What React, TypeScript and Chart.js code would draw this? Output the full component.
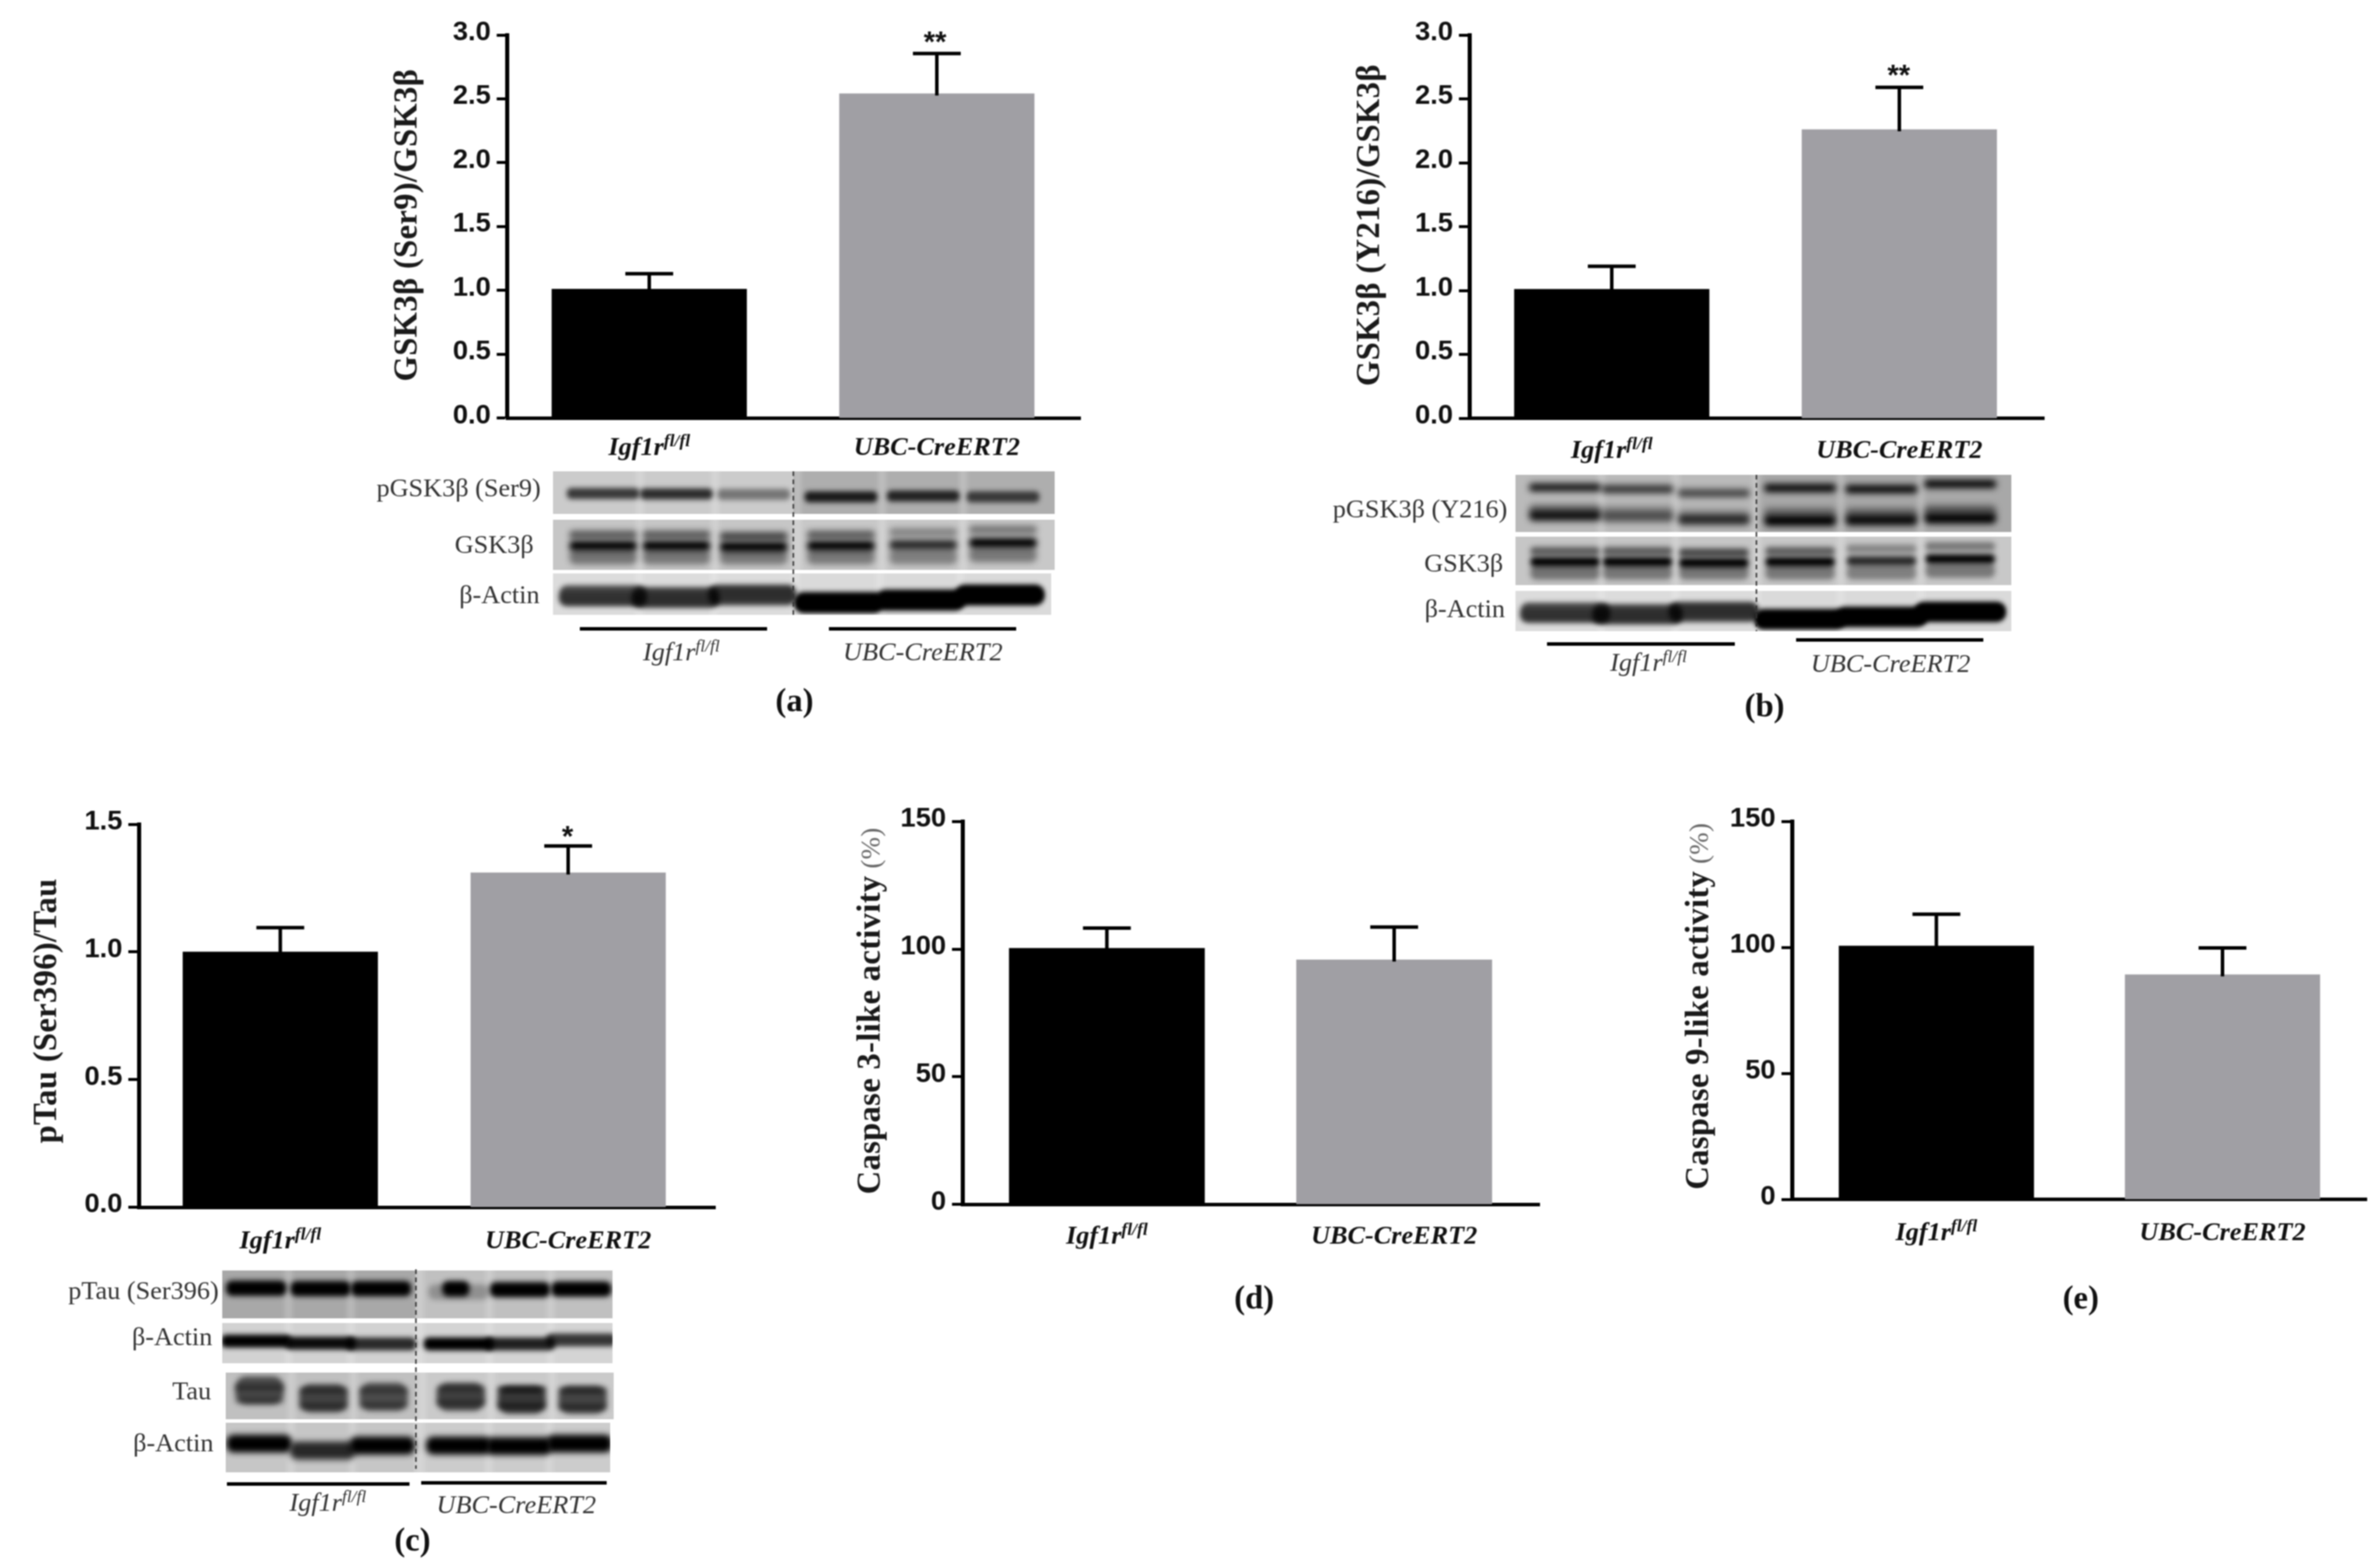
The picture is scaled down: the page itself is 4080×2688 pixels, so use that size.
import React, { useEffect, useRef } from "react";
import { Chart, registerables } from "chart.js";

Chart.register(...registerables);

const categories = ["Igf1r", "UBC-CreERT2"];
const supText = "fl/fl";
const barColors = ["#000000", "#a09fa4"];

const aMeans = [1.01, 2.54];
const aErrTops = [1.13, 2.855];
const bMeans = [1.01, 2.26];
const bErrTops = [1.19, 2.59];
const cMeans = [1.0, 1.31];
const cErrTops = [1.095, 1.415];
const dMeans = [100.3, 95.8];
const dErrTops = [108.2, 108.6];
const eMeans = [100.6, 89.2];
const eErrTops = [113.2, 99.8];

const ticksRatio3 = [0, 3, 0.5];
const ticksRatio15 = [0, 1.5, 0.5];
const ticksPct = [0, 150, 50];

const SERIF = '"Liberation Serif", "Times New Roman", serif';
const SANS = '"Liberation Sans", Arial, sans-serif';

type Row = { x: number; y: number; w: number; h: number; split: number; bgL: string; bgR: string; bands: number[][]; lanes: number[]; fw: number };

const lanesA = [0.1, 0.246, 0.4, 0.574, 0.738, 0.897];
const lanesC = [0.087, 0.252, 0.407, 0.606, 0.763, 0.92];

function bandsOf(fys: number[], fh: number, darks: number[]) {
  return fys.map((fy, i) => [i, fy, fh, darks[i]]);
}

const gskBands = [
  ...bandsOf([0.3, 0.3, 0.33, 0.3, 0.25, 0.2], 0.17, [0.55, 0.55, 0.65, 0.55, 0.35, 0.42]),
  ...bandsOf([0.74, 0.74, 0.74, 0.74, 0.74, 0.7], 0.3, [0.42, 0.4, 0.4, 0.4, 0.36, 0.4]),
  ...bandsOf([0.52, 0.52, 0.54, 0.52, 0.5, 0.46], 0.2, [1, 1, 1, 1, 0.8, 1]),
];
const actinBands = [
  ...bandsOf([0.54, 0.58, 0.52, 0.7, 0.64, 0.52], 0.5, [0.68, 0.72, 0.72, 1, 1, 1]),
  ...bandsOf([0.6, 0.62, 0.5, 0.72, 0.66, 0.52], 0.32, [0.3, 0.25, 0.25, 1, 1, 1]),
];
const ser9Bands = bandsOf([0.52, 0.53, 0.54, 0.6, 0.58, 0.6], 0.26, [0.72, 0.78, 0.42, 0.85, 0.8, 0.68]);
const y216Bands = [
  ...bandsOf([0.22, 0.25, 0.32, 0.23, 0.25, 0.16], 0.14, [0.9, 0.75, 0.65, 1, 1, 1]),
  ...bandsOf([0.6, 0.62, 0.66, 0.66, 0.66, 0.62], 0.18, [0.35, 0.22, 0.14, 0.35, 0.35, 0.45]),
  ...bandsOf([0.71, 0.73, 0.78, 0.8, 0.79, 0.76], 0.19, [0.9, 0.55, 0.78, 1, 0.95, 1]),
];
const pTauBands = [
  ...bandsOf([0.37, 0.38, 0.38, 0.45, 0.4, 0.39], 0.32, [1, 1, 1, 0.25, 1, 1]),
  [3.35, 0.38, 0.32, 1],
];
const actinC1Bands = bandsOf([0.45, 0.5, 0.52, 0.52, 0.52, 0.42], 0.32, [1, 0.95, 0.8, 1, 0.85, 0.75]);
const tauBands = [
  ...bandsOf([0.38, 0.55, 0.52, 0.52, 0.58, 0.58], 0.6, [0.62, 0.65, 0.6, 0.68, 0.72, 0.66]),
  ...bandsOf([0.32, 0.38, 0.38, 0.34, 0.36, 0.38], 0.12, [0.4, 0.4, 0.35, 0.35, 0.7, 0.5]),
  ...bandsOf([0.6, 0.72, 0.7, 0.65, 0.72, 0.74], 0.12, [0.35, 0.4, 0.35, 0.35, 0.5, 0.45]),
];
const actinC2Bands = bandsOf([0.42, 0.56, 0.46, 0.46, 0.47, 0.42], 0.36, [1, 0.8, 1, 1, 1, 1]);

const rowsA: Row[] = [
  { x: 948, y: 808, w: 860, h: 73, split: 0.479, bgL: "#cbcbcb", bgR: "#aeaeae", bands: ser9Bands, lanes: lanesA, fw: 0.145 },
  { x: 948, y: 891, w: 860, h: 86, split: 0.479, bgL: "#c6c6c6", bgR: "#c8c8c8", bands: gskBands, lanes: lanesA, fw: 0.135 },
  { x: 948, y: 983, w: 854, h: 71, split: 0.479, bgL: "#dcdcdc", bgR: "#dadada", bands: actinBands, lanes: lanesA, fw: 0.175 },
];
const rowsB: Row[] = [
  { x: 2598, y: 814, w: 850, h: 98, split: 0.485, bgL: "#bababa", bgR: "#a8a8a8", bands: y216Bands, lanes: lanesA, fw: 0.145 },
  { x: 2598, y: 920, w: 850, h: 83, split: 0.485, bgL: "#c6c6c6", bgR: "#c8c8c8", bands: gskBands, lanes: lanesA, fw: 0.14 },
  { x: 2598, y: 1013, w: 850, h: 69, split: 0.485, bgL: "#dcdcdc", bgR: "#dadada", bands: actinBands, lanes: lanesA, fw: 0.18 },
];
const rowsC: Row[] = [
  { x: 381, y: 2178, w: 669, h: 82, split: 0.496, bgL: "#a8a8a8", bgR: "#c0c0c0", bands: pTauBands, lanes: lanesC, fw: 0.155 },
  { x: 381, y: 2268, w: 669, h: 69, split: 0.496, bgL: "#d2d2d2", bgR: "#d4d4d4", bands: actinC1Bands, lanes: lanesC, fw: 0.18 },
  { x: 387, y: 2353, w: 665, h: 80, split: 0.49, bgL: "#c0c0c0", bgR: "#cacaca", bands: tauBands, lanes: lanesC, fw: 0.125 },
  { x: 387, y: 2439, w: 659, h: 85, split: 0.49, bgL: "#c6c6c6", bgR: "#cccccc", bands: actinC2Bands, lanes: lanesC, fw: 0.17 },
];

type Panel = {
  box: number[];
  plot: number[];
  barCenters: number[];
  means: number[];
  errs: number[];
  range: number[];
  tickDigits: number;
  barW: number;
  labelY: number;
  title: string;
  titleSuffix?: string;
  titleX: number;
  titleY: number;
  stars?: { text: string; x: number; y: number };
  caption: { text: string; x: number; y: number };
  rows?: Row[];
  dash?: number[];
  rules?: number[][];
  groupLabels?: number[][];
  rowLabels?: [string, number, number][];
};

const panels: Panel[] = [
  {
    box: [640, 0, 1270, 1240],
    plot: [869.5, 60, 1852, 716.6],
    barCenters: [1113, 1606],
    means: aMeans,
    errs: aErrTops,
    range: ticksRatio3,
    tickDigits: 1,
    barW: 334,
    labelY: 765,
    title: "GSK3\u03b2 (Ser9)/GSK3\u03b2",
    titleX: 714,
    titleY: 386,
    stars: { text: "**", x: 1603, y: 65 },
    caption: { text: "(a)", x: 1362, y: 1205 },
    rows: rowsA,
    dash: [1360, 808, 1054],
    rules: [[994, 1315, 1078], [1421, 1742, 1078]],
    groupLabels: [[1168, 1117], [1582, 1117]],
    rowLabels: [["pGSK3\u03b2 (Ser9)", 927, 839], ["GSK3\u03b2", 915, 936], ["\u03b2-Actin", 925, 1022]],
  },
  {
    box: [2250, 0, 1310, 1260],
    plot: [2519, 60, 3504, 717],
    barCenters: [2763, 3256],
    means: bMeans,
    errs: bErrTops,
    range: ticksRatio3,
    tickDigits: 1,
    barW: 334,
    labelY: 770,
    title: "GSK3\u03b2 (Y216)/GSK3\u03b2",
    titleX: 2364,
    titleY: 386,
    stars: { text: "**", x: 3255, y: 122 },
    caption: { text: "(b)", x: 3025, y: 1214 },
    rows: rowsB,
    dash: [3011, 814, 1082],
    rules: [[2652, 2974, 1104], [3079, 3400, 1097]],
    groupLabels: [[2826, 1135], [3241, 1137]],
    rowLabels: [["pGSK3\u03b2 (Y216)", 2584, 875], ["GSK3\u03b2", 2577, 968], ["\u03b2-Actin", 2580, 1046]],
  },
  {
    box: [40, 1370, 1220, 1318],
    plot: [238, 1413, 1226, 2069.5],
    barCenters: [480.5, 974],
    means: cMeans,
    errs: cErrTops,
    range: ticksRatio15,
    tickDigits: 1,
    barW: 334,
    labelY: 2125,
    title: "pTau (Ser396)/Tau",
    titleX: 96,
    titleY: 1733,
    stars: { text: "*", x: 973, y: 1427 },
    caption: { text: "(c)", x: 707, y: 2644 },
    rows: rowsC,
    dash: [713, 2176, 2518],
    rules: [[389, 702, 2544], [722, 1040, 2542]],
    groupLabels: [[562, 2575], [885, 2579]],
    rowLabels: [["pTau (Ser396)", 375, 2215], ["\u03b2-Actin", 364, 2294], ["Tau", 362, 2387], ["\u03b2-Actin", 366, 2476]],
  },
  {
    box: [1440, 1370, 1220, 900],
    plot: [1650, 1406, 2639, 2064.6],
    barCenters: [1897.5, 2390],
    means: dMeans,
    errs: dErrTops,
    range: ticksPct,
    tickDigits: 0,
    barW: 335,
    labelY: 2117,
    title: "Caspase 3-like activity",
    titleSuffix: " (%)",
    titleX: 1508,
    titleY: 1733,
    caption: { text: "(d)", x: 2150, y: 2229 },
  },
  {
    box: [2860, 1370, 1220, 900],
    plot: [3072, 1401, 4057, 2056],
    barCenters: [3319.5, 3810],
    means: eMeans,
    errs: eErrTops,
    range: ticksPct,
    tickDigits: 0,
    barW: 334,
    labelY: 2111,
    title: "Caspase 9-like activity",
    titleSuffix: " (%)",
    titleX: 2928,
    titleY: 1725,
    caption: { text: "(e)", x: 3567, y: 2229 },
  },
];

function drawBlotRow(ctx: CanvasRenderingContext2D, r: Row) {
  ctx.save();
  ctx.beginPath();
  ctx.rect(r.x, r.y, r.w, r.h);
  ctx.clip();
  ctx.fillStyle = r.bgL;
  ctx.fillRect(r.x, r.y, r.w * r.split, r.h);
  ctx.fillStyle = r.bgR;
  ctx.fillRect(r.x + r.w * r.split, r.y, r.w * (1 - r.split), r.h);
  ctx.filter = "blur(5px)";
  ctx.fillStyle = "rgba(255,255,255,0.22)";
  for (let i = 0; i < r.lanes.length - 1; i++) {
    const gx = (r.lanes[i] + r.lanes[i + 1]) / 2;
    ctx.fillRect(r.x + gx * r.w - 6, r.y - 10, 12, r.h + 20);
  }
  ctx.filter = `blur(${Math.max(4, r.h * 0.06)}px)`;
  for (const [lane, fy, fh, dark] of r.bands) {
    const base = Math.floor(lane);
    const cx = r.lanes[base] + (lane - base) * 0.1;
    const bw = r.fw * r.w;
    const bh = fh * r.h;
    ctx.fillStyle = `rgba(0,0,0,${dark})`;
    ctx.beginPath();
    ctx.roundRect(r.x + cx * r.w - bw / 2, r.y + fy * r.h - bh / 2, lane !== base ? bw * 0.45 : bw, bh, bh / 2.5);
    ctx.fill();
  }
  ctx.restore();
}

function drawGroupLabel(ctx: CanvasRenderingContext2D, name: string, x: number, baseline: number, bold: boolean, sup: boolean, color: string) {
  const w = bold ? "bold italic" : "italic";
  const mainFont = `${w} 45px ${SERIF}`;
  const supFont = `${w} 30px ${SERIF}`;
  ctx.textBaseline = "alphabetic";
  ctx.textAlign = "left";
  ctx.fillStyle = color;
  ctx.font = mainFont;
  const mw = ctx.measureText(name).width;
  ctx.font = supFont;
  const sw = sup ? ctx.measureText(supText).width : 0;
  const left = x - (mw + sw) / 2;
  ctx.font = mainFont;
  ctx.fillText(name, left, baseline);
  if (sup) {
    ctx.font = supFont;
    ctx.fillText(supText, left + mw, baseline - 15);
  }
}

const annotate = {
  id: "annotate",
  afterDraw(chart: any, _a: any, opts: any) {
    const p: Panel = opts.panel;
    const ctx: CanvasRenderingContext2D = chart.ctx;
    const xs = chart.scales.x;
    const ys = chart.scales.y;
    ctx.save();

    // error bars, from the same values and scales as the bars
    ctx.strokeStyle = "#000";
    p.means.forEach((m, i) => {
      const cx = xs.getPixelForValue(i);
      const y0 = ys.getPixelForValue(m);
      const y1 = ys.getPixelForValue(p.errs[i]);
      ctx.lineWidth = 6;
      ctx.beginPath();
      ctx.moveTo(cx, y0 + 3);
      ctx.lineTo(cx, y1);
      ctx.stroke();
      ctx.beginPath();
      ctx.moveTo(cx - 41, y1);
      ctx.lineTo(cx + 41, y1);
      ctx.stroke();
    });

    ctx.translate(-p.box[0], -p.box[1]);

    // category labels
    categories.forEach((c, i) => {
      drawGroupLabel(ctx, c, xs.getPixelForValue(i) + p.box[0], p.labelY + 15, true, i === 0, "#111");
    });

    // axis title
    ctx.save();
    ctx.translate(p.titleX, p.titleY);
    ctx.rotate(-Math.PI / 2);
    ctx.textBaseline = "alphabetic";
    ctx.textAlign = "left";
    ctx.fillStyle = "#1a1a1a";
    (ctx as any).letterSpacing = "0.5px";
    const tf = `bold 56px ${SERIF}`;
    const sf = `46px ${SERIF}`;
    ctx.font = tf;
    const tw = ctx.measureText(p.title).width;
    let sw = 0;
    if (p.titleSuffix) {
      ctx.font = sf;
      sw = ctx.measureText(p.titleSuffix).width;
    }
    ctx.font = tf;
    ctx.fillText(p.title, -(tw + sw) / 2, 0);
    if (p.titleSuffix) {
      ctx.font = sf;
      ctx.fillStyle = "#666";
      ctx.fillText(p.titleSuffix, -(tw + sw) / 2 + tw, 0);
    }
    (ctx as any).letterSpacing = "0px";
    ctx.restore();

    // significance marks
    if (p.stars) {
      ctx.font = `bold 50px ${SANS}`;
      ctx.textAlign = "center";
      ctx.textBaseline = "alphabetic";
      ctx.fillStyle = "#111";
      ctx.fillText(p.stars.text, p.stars.x, p.stars.y + 24);
    }

    // panel caption
    ctx.font = `bold 56px ${SERIF}`;
    ctx.textAlign = "center";
    ctx.textBaseline = "middle";
    ctx.fillStyle = "#111";
    ctx.fillText(p.caption.text, p.caption.x, p.caption.y);

    // western-blot strips
    if (p.rows) {
      p.rows.forEach((r) => drawBlotRow(ctx, r));
      const [dx, dy0, dy1] = p.dash!;
      ctx.strokeStyle = "#333";
      ctx.lineWidth = 2.5;
      ctx.setLineDash([8, 6]);
      ctx.beginPath();
      ctx.moveTo(dx, dy0);
      ctx.lineTo(dx, dy1);
      ctx.stroke();
      ctx.setLineDash([]);
      ctx.lineWidth = 6;
      ctx.strokeStyle = "#000";
      p.rules!.forEach(([x0, x1, y]) => {
        ctx.beginPath();
        ctx.moveTo(x0, y);
        ctx.lineTo(x1, y);
        ctx.stroke();
      });
      p.groupLabels!.forEach(([x, y], i) => {
        drawGroupLabel(ctx, categories[i], x, y + 15, false, i === 0, "#333");
      });
      ctx.font = `45px ${SERIF}`;
      ctx.textAlign = "right";
      ctx.textBaseline = "middle";
      ctx.fillStyle = "#333";
      p.rowLabels!.forEach(([s, x, y]) => ctx.fillText(s, x, y));
    }
    ctx.restore();
  },
};

function PanelChart({ panel }: { panel: Panel }) {
  const ref = useRef<HTMLCanvasElement>(null);
  useEffect(() => {
    const [bx, by, bw, bh] = panel.box;
    const [l, t, r, b] = panel.plot;
    const [c0, c1] = panel.barCenters;
    const chart = new Chart(ref.current!, {
      type: "bar",
      data: {
        datasets: [
          {
            label: "mean",
            data: panel.means.map((y, i) => ({ x: i, y })),
            backgroundColor: barColors,
            barThickness: panel.barW,
            borderWidth: 0,
          },
        ],
      },
      options: {
        animation: false,
        responsive: false,
        devicePixelRatio: 1,
        layout: {
          autoPadding: false,
          padding: { left: 0, top: t - by, right: bx + bw - r, bottom: by + bh - b },
        },
        plugins: { legend: { display: false }, tooltip: { enabled: false }, annotate: { panel } },
        scales: {
          x: {
            type: "linear",
            offset: false,
            min: (l - c0) / (c1 - c0),
            max: (r - c0) / (c1 - c0),
            z: 1,
            afterFit: (s: any) => {
              s.height = 0;
            },
            grid: { display: false },
            border: { color: "#000", width: 6 },
            ticks: { display: false },
          },
          y: {
            z: 1,
            min: panel.range[0],
            max: panel.range[1],
            afterFit: (s: any) => {
              s.width = l - bx;
            },
            grid: { drawOnChartArea: false, drawTicks: true, tickLength: 18, tickColor: "#000", tickWidth: 5 },
            border: { color: "#000", width: 7 },
            ticks: {
              stepSize: panel.range[2],
              padding: 10,
              labelOffset: -4,
              color: "#111",
              font: { family: "Liberation Sans", weight: "bold", size: 47 },
              callback: (v: any) => Number(v).toFixed(panel.tickDigits),
            },
          },
        },
      },
      plugins: [annotate],
    } as any);
    return () => chart.destroy();
  }, [panel]);
  return (
    <canvas
      ref={ref}
      width={panel.box[2]}
      height={panel.box[3]}
      style={{ position: "absolute", left: panel.box[0], top: panel.box[1], width: panel.box[2], height: panel.box[3], filter: "blur(1.2px)" }}
    />
  );
}

export default function App() {
  useEffect(() => {
    document.body.style.margin = "0";
    document.body.style.background = "#fff";
  }, []);
  return (
    <div style={{ position: "relative", width: 4080, height: 2688, overflow: "hidden", background: "#fff" }}>
      {panels.map((p, i) => (
        <PanelChart key={i} panel={p} />
      ))}
    </div>
  );
}
